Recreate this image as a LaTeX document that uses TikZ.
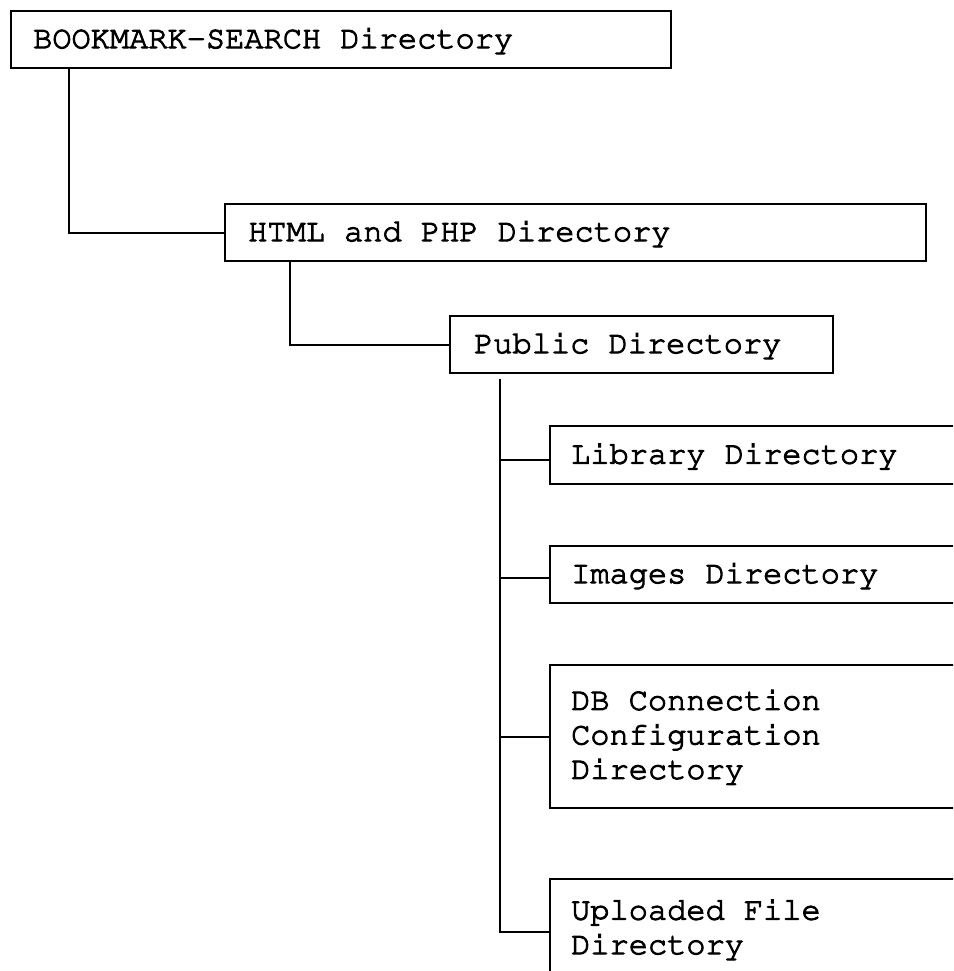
\documentclass[tikz,border=0pt]{standalone}
% Courier (URW Nimbus Mono)
\newcommand\dirfont{\fontencoding{T1}\fontfamily{pcr}\fontseries{m}\fontshape{n}\fontsize{32}{34.5}\selectfont}
% thicken glyphs slightly by stroking their outlines; keep spaces one cell wide
\newcommand\heavyon{\spaceskip=19.2pt\xspaceskip=19.2pt\special{pdf:literal direct 2 Tr 1 w}}
\newcommand\heavyoff{\special{pdf:literal direct 0 Tr}}
\begin{document}
\begin{tikzpicture}[x=1pt,y=-1pt,
  dirbox/.style={draw, line width=2.3pt, anchor=north west, align=flush left,
    font=\dirfont, inner ysep=0pt,
    execute at begin node=\heavyon, execute at end node=\heavyoff},
  oneline/.style={text height=23pt, text depth=6pt},
  link/.style={line width=2.3pt}]
\useasboundingbox (0,0) rectangle (953,971);
\clip (0,0) rectangle (953,971);

% directory boxes
\node[dirbox, oneline, inner xsep=22pt, text width=616pt, minimum height=57pt] (root) at (10,10) {BOOKMARK-SEARCH Directory};
\node[dirbox, oneline, inner xsep=23pt, text width=655pt, minimum height=57pt] (web) at (224,203) {HTML and PHP Directory};
\node[dirbox, oneline, inner xsep=24pt, text width=335pt, minimum height=57pt] (pub) at (449,315) {Public Directory};
\node[dirbox, oneline, inner xsep=21pt, text width=460pt, minimum height=58pt] (lib) at (549,425) {Library Directory};
\node[dirbox, oneline, inner xsep=21pt, text width=460pt, minimum height=57pt] (img) at (549,545) {Images Directory};
\node[dirbox, inner xsep=21pt, text width=460pt, minimum height=143pt] (db) at (549,664) {DB Connection\\Configuration\\Directory};
\node[dirbox, inner xsep=21pt, text width=460pt, minimum height=100pt] (up) at (549,878) {Uploaded File\\Directory};

% tree connectors
\draw[link] ([xshift=59pt]root.south west) |- (web.west);
\draw[link] ([xshift=66pt]web.south west) |- (pub.west);
\coordinate (trunk) at ([xshift=51pt,yshift=-5pt]pub.south west);
\draw[link] (trunk) |- ([yshift=-3pt]up.west);
\draw[link] ([yshift=-5pt]lib.west -| trunk) -- ([yshift=-5pt]lib.west);
\draw[link] ([yshift=-3pt]img.west -| trunk) -- ([yshift=-3pt]img.west);
\draw[link] (db.west -| trunk) -- (db.west);
\end{tikzpicture}
\end{document}
